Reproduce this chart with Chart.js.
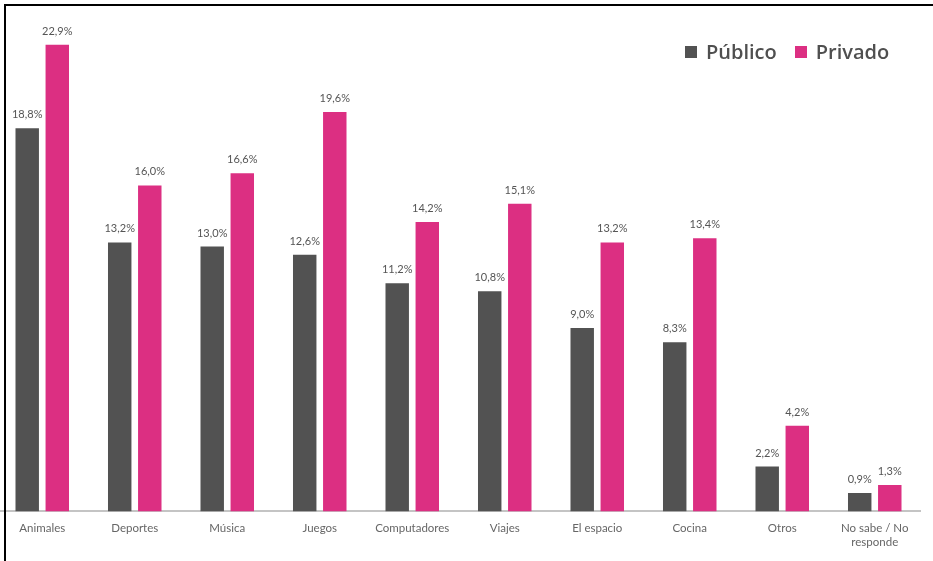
<!DOCTYPE html>
<html>
<head>
<meta charset="utf-8">
<script src="https://cdn.jsdelivr.net/npm/chart.js@4.4.1/dist/chart.umd.min.js"></script>
<style>
  html, body { margin: 0; padding: 0; background: #fff; width: 933px; height: 561px; overflow: hidden; }
  #wrap { position: absolute; left: -4px; top: 0; width: 925px; height: 561px; }
  #frame { position: absolute; left: 4px; top: 4px; width: 935px; height: 570px; border-left: 2px solid #000; border-top: 2px solid #000; pointer-events: none; }
  #legend { position: absolute; top: 38px; left: 685px; font-family: "Open Sans", sans-serif; font-weight: 600; font-size: 20px; color: #4f4f4f; display: flex; gap: 18px; }
  #legend span.item { display: flex; align-items: center; }
  #legend i { display: inline-block; width: 12px; height: 12px; margin-right: 9px; }
</style>
</head>
<body>
<div id="wrap"><canvas id="c" width="925" height="561"></canvas></div>
<div id="legend"></div>
<div id="frame"></div>
<script>
const categories = ["Animales", "Deportes", "Música", "Juegos", "Computadores", "Viajes", "El espacio", "Cocina", "Otros", ["No sabe / No", "responde"]];
const seriesNames = ["Público", "Privado"];
const publico = [18.8, 13.2, 13.0, 12.6, 11.2, 10.8, 9.0, 8.3, 2.2, 0.9];
const privado = [22.9, 16.0, 16.6, 19.6, 14.2, 15.1, 13.2, 13.4, 4.2, 1.3];
const colors = ["#525252", "#dc2f82"];

const legend = document.getElementById('legend');
seriesNames.forEach((n, i) => {
  const s = document.createElement('span');
  s.className = 'item';
  const sw = document.createElement('i');
  sw.style.background = colors[i];
  s.appendChild(sw);
  s.appendChild(document.createTextNode(n));
  legend.appendChild(s);
});

const fmt = v => v.toFixed(1).replace('.', ',') + '%';

const labelPlugin = {
  id: 'valueLabels',
  afterDatasetsDraw(chart) {
    const ctx = chart.ctx;
    ctx.save();
    ctx.font = '11px Lato, "Open Sans", sans-serif';
    ctx.fillStyle = '#555';
    ctx.textAlign = 'center';
    ctx.textBaseline = 'bottom';
    chart.data.datasets.forEach((ds, di) => {
      chart.getDatasetMeta(di).data.forEach((bar, i) => {
        ctx.fillText(fmt(ds.data[i]), bar.x, bar.y - 8);
      });
    });
    ctx.restore();
  }
};

new Chart(document.getElementById('c'), {
  type: 'bar',
  data: {
    labels: categories,
    datasets: [
      { label: seriesNames[0], data: publico, backgroundColor: colors[0], categoryPercentage: 0.65, barPercentage: 0.78 },
      { label: seriesNames[1], data: privado, backgroundColor: colors[1], categoryPercentage: 0.65, barPercentage: 0.78 }
    ]
  },
  options: {
    responsive: false,
    animation: false,
    layout: { padding: { top: 2, bottom: 2, left: 0, right: 0 } },
    plugins: { legend: { display: false }, tooltip: { enabled: false } },
    scales: {
      x: {
        grid: { display: false, drawTicks: false },
        border: { display: true, color: '#c4c4c4', width: 2 },
        ticks: { color: '#666', font: { family: 'Lato, "Open Sans", sans-serif', size: 11.5 }, padding: 10, maxRotation: 0, autoSkip: false }
      },
      y: {
        display: false,
        min: 0,
        max: 25
      }
    }
  },
  plugins: [labelPlugin]
});
</script>
</body>
</html>
